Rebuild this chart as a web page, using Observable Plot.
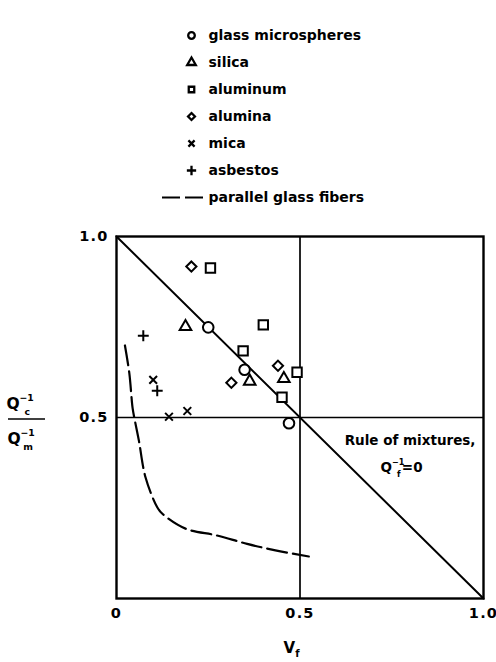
<!DOCTYPE html>
<html>
<head>
<meta charset="utf-8">
<script src="https://cdn.jsdelivr.net/npm/d3@7"></script>
<script src="https://cdn.jsdelivr.net/npm/@observablehq/plot@0.6"></script>
<style>
  body { margin: 0; background: #fff; }
  #chart { width: 496px; }
  #chart svg { display: block; }
  #main g[aria-label*="tick label"] text,
  #main g[aria-label="x-axis"] text,
  #main g[aria-label="y-axis"] text { letter-spacing: 1.2px; }
</style>
</head>
<body>
<div id="chart"><div id="legend"></div><div id="main"></div></div>
<script>
const FONT = "'DejaVu Sans', 'Liberation Sans', sans-serif";

// Legend entries
const legendLabels = ["glass microspheres", "silica", "aluminum", "alumina", "mica", "asbestos", "parallel glass fibers"];
const legendSymbols = ["circle", "triangle", "square", "diamond2", "times", "plus", null];

// Measured points: fiber volume fraction Vf vs. normalized damping Qc^-1 / Qm^-1
const glassVf = [0.250, 0.349, 0.470];
const glassQ = [0.749, 0.632, 0.484];

const silicaVf = [0.188, 0.363, 0.456];
const silicaQ = [0.751, 0.600, 0.607];

const aluminumVf = [0.256, 0.400, 0.345, 0.492, 0.451];
const aluminumQ = [0.913, 0.756, 0.684, 0.625, 0.556];

const aluminaVf = [0.204, 0.440, 0.313];
const aluminaQ = [0.917, 0.643, 0.596];

const micaVf = [0.100, 0.143, 0.193];
const micaQ = [0.604, 0.502, 0.518];

const asbestosVf = [0.073, 0.111];
const asbestosQ = [0.726, 0.574];

// Parallel glass fibers (dashed curve)
const fiberVf = [0.023, 0.035, 0.044, 0.050, 0.061, 0.079, 0.111, 0.125, 0.188, 0.274, 0.356, 0.433, 0.524];
const fiberQ = [0.699, 0.622, 0.525, 0.492, 0.436, 0.335, 0.252, 0.234, 0.193, 0.174, 0.151, 0.133, 0.116];

// Rule of mixtures with Qf^-1 = 0: straight line from (0, 1) to (1, 0)
const mixVf = [0, 1];
const mixQ = [1, 0];

// Reference lines
const refVf = [0.5];
const refQ = [0.5];

// Axis ticks
const xTicks = [0, 0.5, 1];
const yTicks = [0.5, 1];

// Annotation lines
const annText = ["Rule of mixtures,", "Q=0"];
const annVf = [0.80, 0.80];
const annQ = [0.436, 0.362];

const pts = (xs, ys) => xs.map((x, i) => ({x, y: ys[i]}));
const fmt = d => d === 0 ? "0" : d.toFixed(1);

// ---------- Legend ----------
const legendRows = legendLabels.map((label, i) => ({label, symbol: legendSymbols[i]}));
const legendSizes = {circle: 3.3, triangle: 3.2, square: 3.1, diamond2: 3.1, times: 2.9, plus: 3.1};

const legend = Plot.plot({
  width: 496,
  height: 222,
  marginTop: 21,
  marginBottom: 12,
  marginLeft: 191,
  marginRight: 0,
  x: {domain: [0, 1], range: [162, 205], axis: null},
  y: {type: "point", domain: legendLabels, axis: null},
  style: {fontFamily: FONT, background: "white"},
  marks: [
    ...legendRows.filter(d => d.symbol).map(d =>
      Plot.dot([d], {
        y: "label", frameAnchor: "left", symbol: d.symbol, r: legendSizes[d.symbol],
        stroke: "black", strokeWidth: 2.3, fill: "white"
      })
    ),
    Plot.ruleY(legendRows.filter(d => !d.symbol), {
      y: "label", x1: () => 0, x2: () => 1, stroke: "black", strokeWidth: 2, strokeDasharray: "18,5"
    }),
    Plot.text(legendRows, {
      y: "label", text: "label", frameAnchor: "left", dx: 17, textAnchor: "start",
      fontSize: 14, fontWeight: "bold", fill: "black"
    })
  ]
});
document.getElementById("legend").append(legend);

// ---------- Main chart ----------
const main = Plot.plot({
  width: 496,
  height: 440,
  marginLeft: 116,
  marginRight: 13,
  marginTop: 14,
  marginBottom: 64,
  x: {domain: [0, 1], ticks: xTicks, tickFormat: fmt, tickSize: 0, tickPadding: 9, label: null},
  y: {domain: [0, 1], ticks: yTicks, tickFormat: fmt, tickSize: 0, tickPadding: 8, label: null},
  style: {fontFamily: FONT, fontSize: "14.5px", fontWeight: "bold", color: "black", background: "white"},
  marks: [
    Plot.ruleY(refQ, {stroke: "black", strokeWidth: 1.7}),
    Plot.ruleX(refVf, {stroke: "black", strokeWidth: 1.7}),
    Plot.line(pts(mixVf, mixQ), {x: "x", y: "y", stroke: "black", strokeWidth: 2}),
    Plot.line(pts(fiberVf, fiberQ), {
      x: "x", y: "y", curve: "catmull-rom", stroke: "black", strokeWidth: 2.2, strokeDasharray: "20,6"
    }),
    Plot.dot(pts(glassVf, glassQ), {x: "x", y: "y", symbol: "circle", r: 5.3, stroke: "black", strokeWidth: 2, fill: "white"}),
    Plot.dot(pts(silicaVf, silicaQ), {x: "x", y: "y", symbol: "triangle", r: 4.3, stroke: "black", strokeWidth: 2, fill: "white"}),
    Plot.dot(pts(aluminumVf, aluminumQ), {x: "x", y: "y", symbol: "square", r: 5.3, stroke: "black", strokeWidth: 2, fill: "white"}),
    Plot.dot(pts(aluminaVf, aluminaQ), {x: "x", y: "y", symbol: "diamond2", r: 4.6, stroke: "black", strokeWidth: 2, fill: "white"}),
    Plot.dot(pts(micaVf, micaQ), {x: "x", y: "y", symbol: "times", r: 3.6, stroke: "black", strokeWidth: 2}),
    Plot.dot(pts(asbestosVf, asbestosQ), {x: "x", y: "y", symbol: "plus", r: 3.6, stroke: "black", strokeWidth: 2}),
    Plot.frame({stroke: "black", strokeWidth: 2.4}),
    Plot.text([0], {
      x: () => annVf[0], y: () => annQ[0], text: () => annText[0],
      fontSize: 13.5, fontWeight: "bold", fill: "black"
    })
  ]
});
document.getElementById("main").append(main);

// ---------- Labels with sub/superscripts ----------
const xs = main.scale("x"), ys = main.scale("y");
const svg = d3.select(main);

// "Q" with stacked superscript "−1" and a subscript, optionally followed by a tail
function qLabel(parent, cx, baseline, size, sub, tail) {
  const g = parent.append("g").attr("font-family", FONT).attr("font-weight", "bold").attr("fill", "black");
  const small = size * 0.6;
  const q = g.append("text").attr("x", 0).attr("y", baseline).attr("font-size", size).text("Q");
  const qw = q.node().getComputedTextLength();
  const sup = g.append("text").attr("x", qw + 0.5).attr("y", baseline - size * 0.5).attr("font-size", small).text("−1");
  const sw = sup.node().getComputedTextLength();
  const sb = g.append("text").attr("x", qw + 1).attr("y", baseline + size * 0.36).attr("font-size", small).text(sub);
  const bw = sb.node().getComputedTextLength();
  let total = qw + 0.5 + Math.max(sw, bw + 0.5);
  if (tail) {
    const t = g.append("text").attr("x", total + 1.5).attr("y", baseline).attr("font-size", size).text(tail);
    total += 1.5 + t.node().getComputedTextLength();
  }
  g.attr("transform", `translate(${cx - total / 2},0)`);
  return g;
}

// y-axis label: Qc^-1 / Qm^-1
const yMid = ys.apply(refQ[0]) + 2;
const ylab = svg.append("g");
qLabel(ylab, 27, yMid - 10, 15.5, "c");
ylab.append("line").attr("x1", 8).attr("x2", 45).attr("y1", yMid).attr("y2", yMid)
  .attr("stroke", "black").attr("stroke-width", 1.6);
qLabel(ylab, 28, yMid + 25, 15.5, "m");

// x-axis label: Vf
const xlab = svg.append("g").attr("font-family", FONT).attr("font-weight", "bold").attr("fill", "black");
const vText = xlab.append("text").attr("y", 431).attr("font-size", 15);
vText.append("tspan").text("V");
vText.append("tspan").attr("font-size", 10).attr("dy", 4).text("f");
const vw = vText.node().getComputedTextLength();
vText.attr("x", xs.apply(refVf[0]) - vw / 2);

// Annotation second line: Qf^-1 = 0
qLabel(svg, xs.apply(annVf[1]), ys.apply(annQ[1]) + 5, 13.5, "f", "=0");
</script>
</body>
</html>
